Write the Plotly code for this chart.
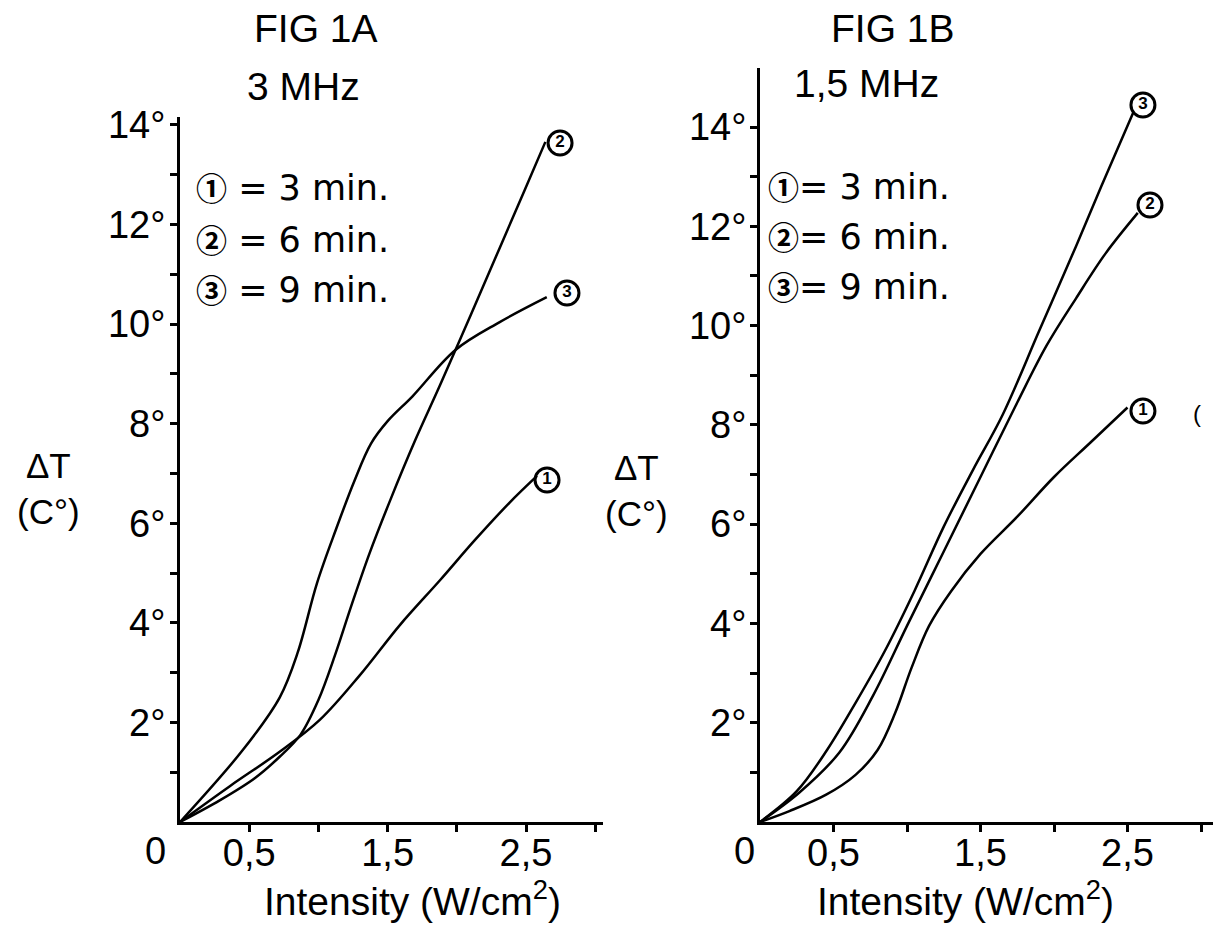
import plotly.graph_objects as go

W, H = 1213, 937

# ---------------- data ----------------
# FIG 1A : 3 MHz   (1 = 3 min, 2 = 6 min, 3 = 9 min)
a_x1 = [0, 0.36, 0.72, 1.01, 1.30, 1.59, 1.88, 2.13, 2.38, 2.58]
a_y1 = [0, 0.72, 1.41, 2.05, 2.95, 3.96, 4.86, 5.66, 6.41, 6.95]
a_x2 = [0, 0.29, 0.54, 0.72, 0.87, 1.00, 1.12, 1.24, 1.37, 1.52, 1.70, 1.88, 2.10, 2.31, 2.49, 2.64]
a_y2 = [0, 0.44, 0.88, 1.31, 1.75, 2.45, 3.35, 4.36, 5.40, 6.47, 7.67, 8.78, 10.18, 11.53, 12.69, 13.66]
a_x3 = [0, 0.455, 0.72, 0.85, 0.99, 1.13, 1.26, 1.38, 1.50, 1.68, 1.99, 2.31, 2.65]
a_y3 = [0, 1.45, 2.50, 3.40, 4.80, 5.90, 6.85, 7.60, 8.05, 8.55, 9.48, 10.04, 10.54]
a_lab_x = [2.652, 2.746, 2.796]
a_lab_y = [6.869, 13.637, 10.624]

# FIG 1B : 1,5 MHz
b_x1 = [0, 0.20, 0.45, 0.65, 0.80, 0.92, 1.03, 1.15, 1.30, 1.50, 1.75, 2.00, 2.25, 2.50]
b_y1 = [0, 0.22, 0.55, 0.95, 1.45, 2.20, 3.10, 3.95, 4.65, 5.40, 6.15, 6.95, 7.65, 8.35]
b_x2 = [0, 0.27, 0.54, 0.77, 1.00, 1.25, 1.50, 1.75, 1.95, 2.15, 2.35, 2.57]
b_y2 = [0, 0.60, 1.40, 2.55, 3.95, 5.45, 6.95, 8.45, 9.60, 10.55, 11.45, 12.27]
b_x3 = [0, 0.25, 0.456, 0.65, 0.85, 1.05, 1.25, 1.45, 1.65, 1.90, 2.15, 2.35, 2.54]
b_y3 = [0, 0.62, 1.45, 2.40, 3.45, 4.65, 5.95, 7.10, 8.20, 9.90, 11.60, 13.00, 14.30]
b_lab_x = [2.605, 2.653, 2.605]
b_lab_y = [8.280, 12.430, 14.444]

curve_labels = ["<b>1</b>", "<b>2</b>", "<b>3</b>"]
legend_rows = ["= 3 min.", "= 6 min.", "= 9 min."]
circled = ["\u2460", "\u2461", "\u2462"]

x_tickvals = [0.5, 1.5, 2.5]
x_ticktext = ["0,5", "1,5", "2,5"]
x_minorvals = [1.0, 2.0, 3.0]
y_tickvals = [2, 4, 6, 8, 10, 12, 14]
y_ticktext = ["2°", "4°", "6°", "8°", "10°", "12°", "14°"]
y_minorvals = [1, 3, 5, 7, 9, 11, 13]

# ---------------- figure ----------------
FONT = "Liberation Sans, Arial, Helvetica, sans-serif"
LEGFONT = "DejaVu Sans, Liberation Sans, sans-serif"
fig = go.Figure()

line = dict(color="black", width=2.5)
for xs, ys in [(a_x1, a_y1), (a_x2, a_y2), (a_x3, a_y3)]:
    fig.add_trace(go.Scatter(x=xs, y=ys, mode="lines", line=dict(shape="spline", smoothing=1.0, **line),
                             xaxis="x", yaxis="y", showlegend=False, hoverinfo="skip"))
for xs, ys in [(b_x1, b_y1), (b_x2, b_y2), (b_x3, b_y3)]:
    fig.add_trace(go.Scatter(x=xs, y=ys, mode="lines", line=dict(shape="spline", smoothing=1.0, **line),
                             xaxis="x2", yaxis="y2", showlegend=False, hoverinfo="skip"))

mk = dict(symbol="circle-open", size=24, color="black", line=dict(width=3, color="black"))
tf = dict(family=FONT, size=17, color="black")
fig.add_trace(go.Scatter(x=a_lab_x, y=a_lab_y, mode="markers+text", text=curve_labels,
                         textposition="middle center", textfont=tf, marker=mk,
                         xaxis="x", yaxis="y", showlegend=False, hoverinfo="skip"))
fig.add_trace(go.Scatter(x=b_lab_x, y=b_lab_y, mode="markers+text", text=curve_labels,
                         textposition="middle center", textfont=tf, marker=mk,
                         xaxis="x2", yaxis="y2", showlegend=False, hoverinfo="skip"))

def X(p):
    return p / W

def Y(p):
    return 1 - p / H

minor_style = dict(ticks="outside", ticklen=7, tickwidth=2.5, tickcolor="black", showgrid=False)
axis_common = dict(showline=True, linewidth=3, linecolor="black", showgrid=False, zeroline=False,
                   ticks="outside", ticklen=7, tickwidth=2.5, tickcolor="black", automargin=False,
                   tickfont=dict(family=FONT, size=38, color="black"))

fig.update_layout(
    template="none",
    width=W, height=H,
    margin=dict(l=0, r=0, t=0, b=0, pad=0),
    paper_bgcolor="white", plot_bgcolor="white",
    xaxis=dict(domain=[X(180), X(603)], range=[0, (603 - 180) / 138.4], anchor="y",
               tickvals=x_tickvals, ticktext=x_ticktext, ticklabelstandoff=-12,
               minor=dict(tickvals=x_minorvals, **minor_style), **axis_common),
    yaxis=dict(domain=[Y(822), Y(117)], range=[0, (822 - 117) / 49.79], anchor="x",
               tickvals=y_tickvals, ticktext=y_ticktext, ticklabelstandoff=-3,
               minor=dict(tickvals=y_minorvals, **minor_style), **axis_common),
    xaxis2=dict(domain=[X(760), 1.0], range=[0, (1213 - 760) / 147.0], anchor="y2",
                tickvals=x_tickvals, ticktext=x_ticktext, ticklabelstandoff=-12,
                minor=dict(tickvals=x_minorvals, **minor_style), **axis_common),
    yaxis2=dict(domain=[Y(822), Y(68)], range=[0, (822 - 68) / 49.64], anchor="x2",
                tickvals=y_tickvals, ticktext=y_ticktext, ticklabelstandoff=-4,
                minor=dict(tickvals=y_minorvals, **minor_style), **axis_common),
)

ann = []

def text(x, y, s, size, xanchor="center", align="center", family=FONT):
    ann.append(dict(x=X(x), y=Y(y), xref="paper", yref="paper", text=s, showarrow=False,
                    xanchor=xanchor, yanchor="middle", align=align,
                    font=dict(family=family, size=size, color="black")))

text(316, 29, "FIG 1A", 39)
text(303, 86, "3 MHz", 39)
text(893, 29, "FIG 1B", 39)
text(866, 84, "1,5 MHz", 39)

circ_span = '<span style="font-family:\'Noto Sans CJK JP\'; font-size:31px"><b>%s</b></span>'
for i, yy in enumerate([186, 238, 288]):
    text(194, yy, (circ_span % circled[i]) + " " + legend_rows[i], 35, xanchor="left", align="left",
         family=LEGFONT)
for i, yy in enumerate([185, 235, 285]):
    text(766, yy, (circ_span % circled[i]) + legend_rows[i], 35, xanchor="left", align="left",
         family=LEGFONT)

text(48, 489, "ΔT<br>(C°)", 35)
text(636, 490, "ΔT<br>(C°)", 35)

text(412, 898, "Intensity (W/cm<sup>2</sup>)", 39)
text(965, 898, "Intensity (W/cm<sup>2</sup>)", 39)

text(155, 851, "0", 38)
text(744, 851, "0", 38)
text(1197, 413, "(", 24)

fig.update_layout(annotations=ann)
fig.write_html("out.html", config={"displayModeBar": False},
               post_script="document.body.style.margin='0px';document.body.style.overflow='hidden';")
